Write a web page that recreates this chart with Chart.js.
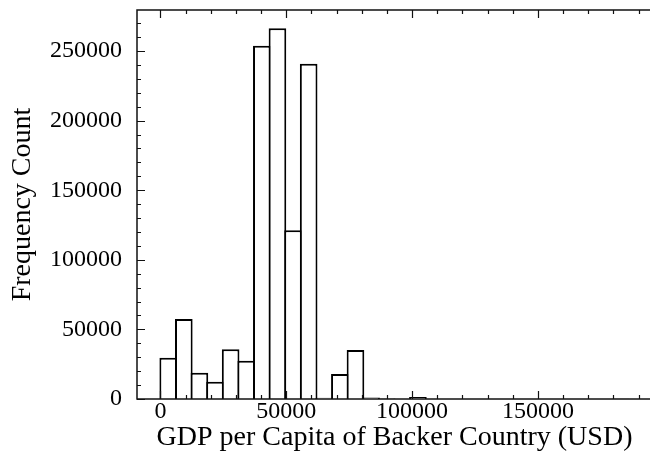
<!DOCTYPE html>
<html>
<head>
<meta charset="utf-8">
<script src="https://cdn.jsdelivr.net/npm/chart.js@4"></script>
<style>
  html, body { margin: 0; padding: 0; background: #fff; overflow: hidden; }
  #wrap { width: 650px; height: 470px; overflow: hidden; }
</style>
</head>
<body>
<div id="wrap"><canvas id="hist" width="670" height="470"></canvas></div>
<script>
// histogram bins (USD) and counts per bin
const binEdges = [0, 6200, 12400, 18600, 24800, 31000, 37200, 43400, 49600, 55800,
  62000, 68200, 74400, 80600, 86800, 93000, 99200, 105400, 111600, 117800,
  124000, 130200, 136400, 142600, 148800, 155000, 161200, 167400, 173600, 179800, 186000];
const counts = [29700, 57500, 18900, 12400, 35700, 27500, 253800, 266300, 121200, 240900,
  900, 18000, 35200, 1000, 300, 0, 1500, 0, 0, 0,
  0, 0, 0, 0, 0, 0, 0, 0, 0, 100];
const xTicks = [0, 50000, 100000, 150000];
const yTicks = [0, 50000, 100000, 150000, 200000, 250000];

const serif = "'Liberation Serif', 'Times New Roman', serif";
const tickFont = { family: serif, size: 24 };
const titleFont = { family: serif, size: 28 };

const points = counts.map((c, i) => ({ x: (binEdges[i] + binEdges[i + 1]) / 2, y: c }));

// frame plus inward major/minor ticks, matplotlib style
const frameTicks = {
  id: 'frameTicks',
  afterDatasetsDraw(chart) {
    const { ctx, chartArea: a, scales: { x, y } } = chart;
    ctx.save();
    ctx.strokeStyle = '#111';
    ctx.lineWidth = 1.5;
    ctx.strokeRect(a.left, a.top, a.right - a.left, a.bottom - a.top);
    ctx.lineWidth = 1.2;
    ctx.beginPath();
    for (let v = 0; v <= x.max; v += 10000) {
      const px = Math.round(x.getPixelForValue(v)) + 0.5;
      const len = v % 50000 === 0 ? 8 : 4;
      ctx.moveTo(px, a.bottom); ctx.lineTo(px, a.bottom - len);
      ctx.moveTo(px, a.top); ctx.lineTo(px, a.top + len);
    }
    for (let v = 0; v <= y.max; v += 10000) {
      const py = Math.round(y.getPixelForValue(v)) + 0.5;
      const len = v % 50000 === 0 ? 8 : 4;
      ctx.moveTo(a.left, py); ctx.lineTo(a.left + len, py);
    }
    ctx.stroke();
    ctx.restore();
  }
};

new Chart(document.getElementById('hist'), {
  type: 'bar',
  data: {
    datasets: [{
      data: points,
      backgroundColor: '#fff',
      borderColor: '#000',
      borderWidth: 2,
      borderSkipped: 'start',
      barPercentage: 1.13,
      categoryPercentage: 1
    }]
  },
  options: {
    responsive: false,
    animation: false,
    layout: { padding: { top: 10, right: 18 } },
    plugins: { legend: { display: false }, tooltip: { enabled: false } },
    scales: {
      x: {
        type: 'linear',
        offset: false,
        min: -9300,
        max: 195300,
        grid: { display: false, drawTicks: false },
        border: { display: false },
        afterBuildTicks: s => { s.ticks = xTicks.map(v => ({ value: v })); },
        afterFit: s => { s.height = 71; s.paddingLeft = 0; s.paddingRight = 0; },
        ticks: {
          padding: -2,
          color: '#000',
          maxRotation: 0,
          font: tickFont,
          callback: v => String(v)
        },
        title: {
          display: true,
          text: 'GDP per Capita of Backer Country (USD)',
          color: '#000',
          font: titleFont,
          padding: { top: 0, bottom: 16 }
        }
      },
      y: {
        min: 0,
        max: 279500,
        grid: { display: false, drawTicks: false },
        border: { display: false },
        afterBuildTicks: s => { s.ticks = yTicks.map(v => ({ value: v })); },
        afterFit: s => { s.width = 137; s.paddingTop = 0; s.paddingBottom = 0; },
        ticks: {
          padding: 15,
          color: '#000',
          font: tickFont,
          callback: v => String(v)
        },
        title: {
          display: true,
          text: 'Frequency Count',
          color: '#000',
          font: titleFont,
          padding: { top: 6, bottom: 0 }
        }
      }
    }
  },
  plugins: [frameTicks]
});
</script>
</body>
</html>
